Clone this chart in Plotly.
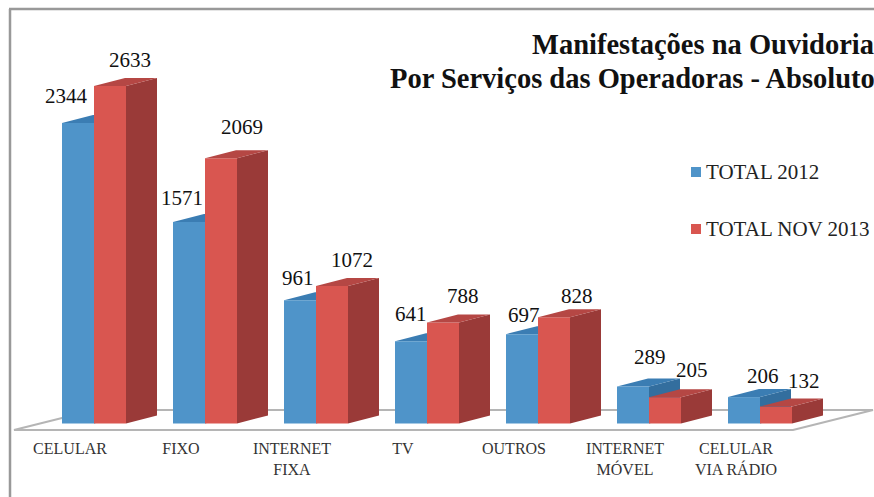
import plotly.graph_objects as go

categories = ["CELULAR", "FIXO", "INTERNET<br>FIXA", "TV", "OUTROS", "INTERNET<br>MÓVEL", "CELULAR<br>VIA RÁDIO"]
series_2012 = [2344, 1571, 961, 641, 697, 289, 206]
series_2013 = [2633, 2069, 1072, 788, 828, 205, 132]
name_2012 = "TOTAL 2012"
name_2013 = "TOTAL NOV 2013"
title_line1 = "Manifestações na Ouvidoria"
title_line2 = "Por Serviços das Operadoras - Absoluto"

label_off_2012 = [(-12, -27), (-7, -24), (-2, -22), (0, -27), (2, -19), (17, -29), (19, -21)]
label_off_2013 = [(20, -26), (21, -31), (20, -26), (20, -26), (23, -21), (27, -27), (28, -26)]

W, H = 874, 497
PLOT_BOTTOM = 438
CAT_PX, X0_PX, BASE_PX, Y_SCALE = 111.0, 94.0, 423.5, 0.1282
BAR = 32 / CAT_PX
DX, DY = 31 / CAT_PX, 8 / Y_SCALE
FONT = "Liberation Serif"

BLUE, BLUE_SIDE, BLUE_TOP = "#4f94c9", "#336e9e", "#3b7db3"
RED, RED_SIDE, RED_TOP = "#d95650", "#9a3a38", "#b54744"


def xd(px):
    return (px - X0_PX) / CAT_PX


def yd(py):
    return (BASE_PX - py) / Y_SCALE


def side_poly(i, v, left):
    r = i + left + BAR
    return [r, r + DX, r + DX, r, r], [0, DY, v + DY, v, 0]


def top_poly(i, v, left):
    l = i + left
    return [l, l + BAR, l + BAR + DX, l + DX, l], [v, v, v + DY, v + DY, v]


def path(xs, ys):
    return "M" + " L".join(f"{x:.4f},{y:.3f}" for x, y in zip(xs, ys)) + " Z"


def merged(polys):
    X, Y = [], []
    for xs, ys in polys:
        X += xs + [None]
        Y += ys + [None]
    return X, Y


idx = list(range(len(categories)))
fig = go.Figure()

fig.add_bar(x=idx, y=series_2012, name=name_2012, width=BAR, offset=-BAR,
            marker=dict(color=BLUE, line=dict(width=0)), showlegend=False)
fig.add_bar(x=idx, y=series_2013, name=name_2013, width=BAR, offset=0,
            marker=dict(color=RED, line=dict(width=0)), showlegend=False)

sx, sy = merged([side_poly(i, v, 0) for i, v in zip(idx, series_2013)])
fig.add_scatter(x=sx, y=sy, mode="lines", fill="toself", fillcolor=RED_SIDE,
                line=dict(width=0), hoverinfo="skip", showlegend=False)
tx, ty = merged([top_poly(i, v, 0) for i, v in zip(idx, series_2013)])
fig.add_scatter(x=tx, y=ty, mode="lines", fill="toself", fillcolor=RED_TOP,
                line=dict(width=0), hoverinfo="skip", showlegend=False)

shapes = []
# floor
fx = [xd(14), xd(793), xd(873), xd(94), xd(14)]
fy = [yd(430), yd(430), yd(410), yd(410), yd(430)]
shapes.append(dict(type="path", path=path(fx, fy), layer="below", xref="x", yref="y",
                   fillcolor="white", line=dict(color="#b5b5b5", width=2)))
# blue depth faces sit behind the front faces
for i, v in zip(idx, series_2012):
    shapes.append(dict(type="path", path=path(*side_poly(i, v, -BAR)), layer="below",
                       xref="x", yref="y", fillcolor=BLUE_SIDE, line=dict(width=0)))
    shapes.append(dict(type="path", path=path(*top_poly(i, v, -BAR)), layer="below",
                       xref="x", yref="y", fillcolor=BLUE_TOP, line=dict(width=0)))
# frame
py = lambda p: 1 - p / PLOT_BOTTOM
shapes.append(dict(type="line", xref="paper", yref="paper", x0=9 / W, x1=1, y0=py(9), y1=py(9),
                   line=dict(color="#999999", width=2.5)))
shapes.append(dict(type="line", xref="paper", yref="paper", x0=10 / W, x1=10 / W, y0=py(9), y1=py(497),
                   line=dict(color="#999999", width=2.5)))
# legend swatches
for color, cy in ((BLUE, 172), (RED, 229)):
    shapes.append(dict(type="rect", xref="paper", yref="paper", x0=691 / W, x1=701 / W,
                       y0=py(cy + 5), y1=py(cy - 5), fillcolor=color, line=dict(width=0)))

annotations = []
for vals, offs, left in ((series_2012, label_off_2012, -BAR / 2), (series_2013, label_off_2013, BAR / 2)):
    for i, v, (ox, oy) in zip(idx, vals, offs):
        annotations.append(dict(x=i + left, y=v, text=str(v), showarrow=False, xref="x", yref="y",
                                xshift=ox, yshift=-oy, xanchor="center", yanchor="middle",
                                font=dict(family=FONT, size=21, color="#111")))
for name, cy in ((name_2012, 172), (name_2013, 229)):
    annotations.append(dict(x=704.5 / W, y=py(cy), xref="paper", yref="paper", text=name, showarrow=False,
                            xanchor="left", yanchor="middle", borderpad=0,
                            font=dict(family=FONT, size=21, color="#222")))
annotations.append(dict(x=1, y=py(78), xref="paper", yref="paper", text=title_line2, showarrow=False,
                        xanchor="right", yanchor="middle", xshift=2, borderpad=0,
                        font=dict(family=FONT, size=28.5, color="#111", weight="bold")))

fig.update_layout(
    width=W, height=H, margin=dict(l=0, r=0, t=0, b=H - PLOT_BOTTOM, pad=0),
    paper_bgcolor="white", plot_bgcolor="rgba(0,0,0,0)", barmode="overlay", showlegend=False,
    title=dict(text=title_line1, x=1, xref="paper", xanchor="right",
               y=1 - 44 / H, yref="container", yanchor="middle",
               font=dict(family=FONT, size=28.5, color="#111", weight="bold")),
    xaxis=dict(range=[xd(0), xd(W)], tickmode="array", tickvals=[i + xd(70) for i in idx], ticktext=categories,
               showgrid=False, zeroline=False, showline=False, ticks="", ticklabelstandoff=-1,
               tickfont=dict(family=FONT, size=16, color="#333")),
    yaxis=dict(range=[yd(PLOT_BOTTOM), yd(0)], visible=False),
    shapes=shapes, annotations=annotations,
)
fig.write_html("out.html", config=dict(displayModeBar=False),
               post_script="document.body.style.margin='0';document.body.style.overflow='hidden';")
